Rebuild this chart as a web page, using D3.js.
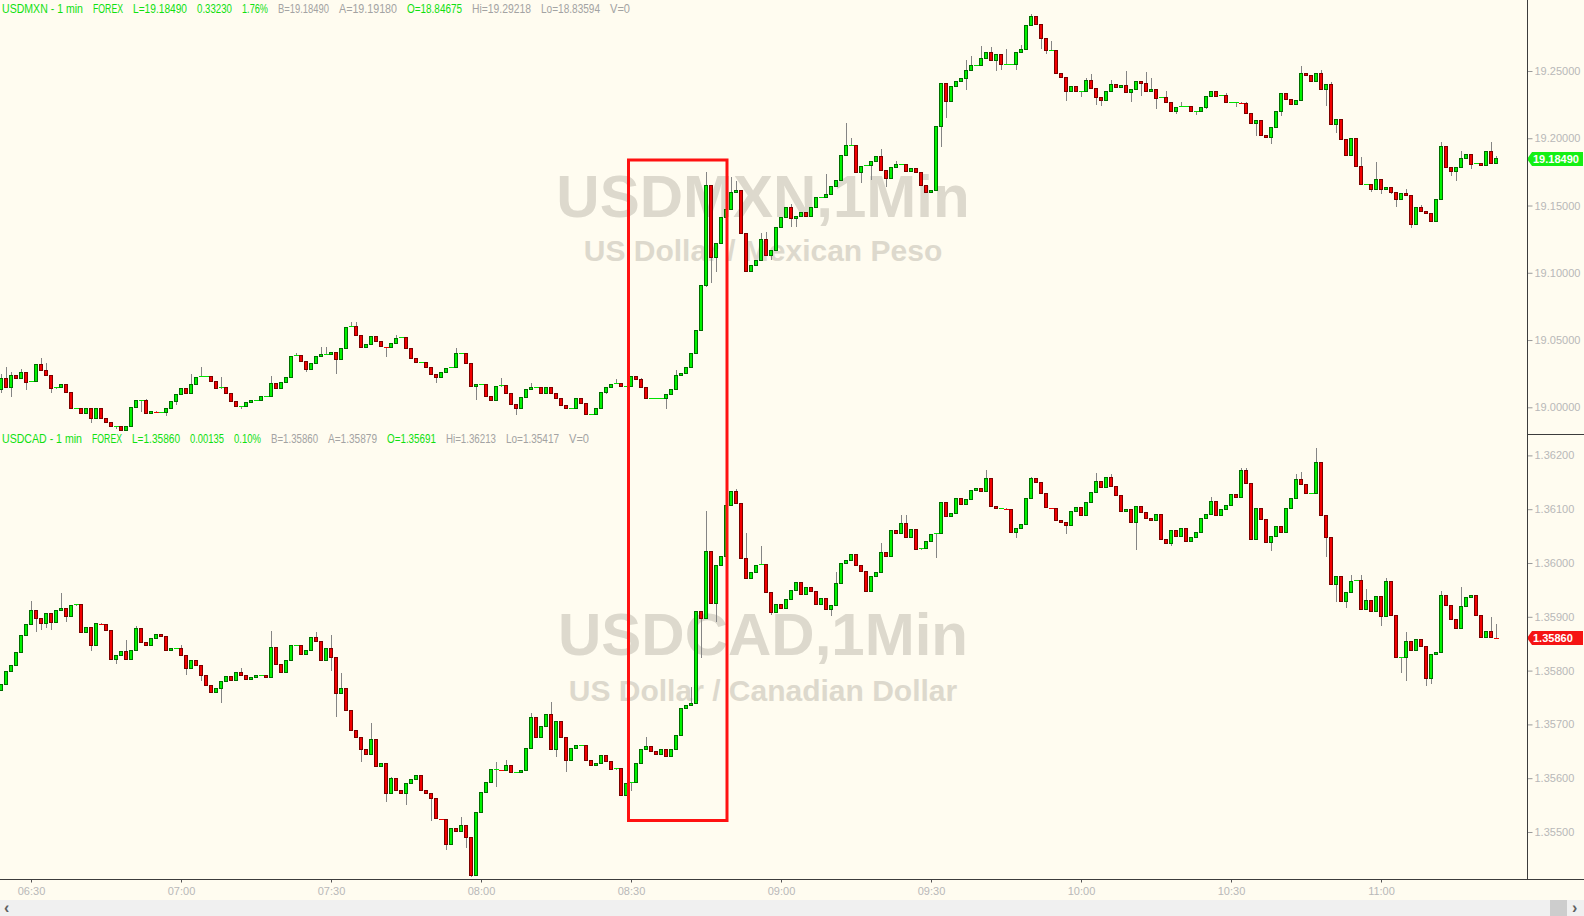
<!DOCTYPE html>
<html>
<head>
<meta charset="utf-8">
<script src="https://cdn.jsdelivr.net/npm/d3@7/dist/d3.min.js"></script>
<style>
html, body { margin: 0; padding: 0; background: #fffcf0; overflow: hidden; }
svg { display: block; font-family: "Liberation Sans", Arial, sans-serif; }
</style>
</head>
<body>
<div id="chart"></div>
<script>

// ---- DATA ---- //
// one bar per minute starting at sessionStart; open of a bar = previous close
var sessionStart = "06:24";
var timeTicks = ["06:30", "07:00", "07:30", "08:00", "08:30", "09:00", "09:30", "10:00", "10:30", "11:00"];

var mxnTicks = [19.00, 19.05, 19.10, 19.15, 19.20, 19.25];
var mxnFirstOpen = 19.0133;
var mxnClose = [
	19.0215,19.0148,19.0235,19.0213,19.0260,19.0185,19.0195,19.0319,19.0275,19.0240,
	19.0138,19.0148,19.0168,19.0111,18.9990,18.9990,18.9955,18.9990,18.9918,18.9990,
	18.9918,18.9888,18.9859,18.9859,18.9831,18.9856,19.0000,19.0052,19.0052,18.9955,
	18.9970,18.9963,18.9963,18.9990,19.0044,19.0094,19.0138,19.0104,19.0168,19.0223,
	19.0228,19.0228,19.0190,19.0138,19.0146,19.0104,19.0044,19.0007,19.0007,19.0034,
	19.0052,19.0052,19.0079,19.0081,19.0178,19.0138,19.0185,19.0220,19.0379,19.0386,
	19.0339,19.0280,19.0327,19.0376,19.0394,19.0394,19.0406,19.0354,19.0438,19.0594,
	19.0602,19.0535,19.0446,19.0468,19.0525,19.0488,19.0450,19.0446,19.0475,19.0512,
	19.0520,19.0438,19.0364,19.0334,19.0334,19.0297,19.0245,19.0220,19.0260,19.0290,
	19.0297,19.0401,19.0401,19.0327,19.0153,19.0168,19.0173,19.0084,19.0052,19.0153,
	19.0163,19.0099,19.0022,18.9990,19.0072,19.0134,19.0146,19.0146,19.0104,19.0146,
	19.0104,19.0067,19.0010,18.9993,18.9993,19.0067,19.0030,18.9950,18.9950,18.9993,
	19.0111,19.0146,19.0171,19.0178,19.0158,19.0158,19.0228,19.0208,19.0146,19.0067,
	19.0067,19.0067,19.0067,19.0097,19.0136,19.0240,19.0253,19.0297,19.0401,19.0570,
	19.0906,19.1647,19.1114,19.1218,19.1412,19.1471,19.1597,19.1615,19.1293,19.1008,
	19.1053,19.1090,19.1248,19.1132,19.1169,19.1337,19.1412,19.1486,19.1404,19.1417,
	19.1449,19.1417,19.1486,19.1560,19.1560,19.1582,19.1639,19.1684,19.1870,19.1946,
	19.1946,19.1746,19.1793,19.1800,19.1830,19.1862,19.1763,19.1701,19.1783,19.1805,
	19.1805,19.1756,19.1776,19.1746,19.1652,19.1597,19.1610,19.2085,19.2407,19.2273,
	19.2382,19.2422,19.2444,19.2501,19.2541,19.2543,19.2593,19.2635,19.2576,19.2623,
	19.2551,19.2551,19.2551,19.2635,19.2660,19.2838,19.2907,19.2845,19.2741,19.2652,
	19.2652,19.2481,19.2452,19.2348,19.2385,19.2348,19.2350,19.2429,19.2370,19.2303,
	19.2281,19.2348,19.2400,19.2377,19.2390,19.2340,19.2363,19.2422,19.2407,19.2348,
	19.2363,19.2296,19.2303,19.2266,19.2199,19.2229,19.2236,19.2236,19.2199,19.2199,
	19.2229,19.2311,19.2348,19.2311,19.2316,19.2266,19.2266,19.2266,19.2259,19.2184,
	19.2110,19.2132,19.2018,19.2006,19.2080,19.2199,19.2333,19.2288,19.2251,19.2281,
	19.2481,19.2467,19.2422,19.2481,19.2363,19.2400,19.2103,19.2140,19.1989,19.1872,
	19.1999,19.1790,19.1657,19.1657,19.1620,19.1691,19.1620,19.1634,19.1597,19.1545,
	19.1590,19.1575,19.1360,19.1486,19.1456,19.1441,19.1382,19.1545,19.1939,19.1783,
	19.1753,19.1783,19.1850,19.1880,19.1805,19.1813,19.1800,19.1902,19.1813,19.1849
];
// wicks that stick out of the body (bar index : price)
var mxnHigh = {0:19.0247,1:19.0302,2:19.0265,4:19.0282,8:19.0364,9:19.0332,29:19.0059,38:19.0245,40:19.0297,
	44:19.0228,54:19.0233,59:19.0406,64:19.0450,65:19.0445,70:19.0631,71:19.0631,79:19.0537,91:19.0438,100:19.0215,
	106:19.0178,123:19.0208,128:19.0220,135:19.0277,141:19.1746,146:19.1714,147:19.1684,152:19.1298,153:19.1305,
	158:19.1511,165:19.1734,169:19.2117,170:19.2004,176:19.1917,179:19.1833,193:19.2585,194:19.2610,196:19.2685,
	198:19.2680,201:19.2667,204:19.2692,206:19.2922,210:19.2722,217:19.2447,218:19.2474,222:19.2432,225:19.2499,
	229:19.2491,230:19.2449,233:19.2350,236:19.2266,245:19.2333,249:19.2266,260:19.2536,264:19.2506,266:19.2417,
	272:19.1862,275:19.1823,281:19.1625,284:19.1501,288:19.1969,292:19.1904,298:19.1969,299:19.1870};
var mxnLow = {0:19.0109,2:19.0079,5:19.0129,10:19.0109,18:18.9881,23:18.9841,28:18.9965,33:18.9935,35:19.0017,
	48:18.9985,61:19.0262,67:19.0245,77:19.0376,87:19.0183,95:19.0054,103:18.9940,117:18.9943,121:19.0099,
	133:18.9985,141:19.0896,142:19.0921,143:19.1008,154:19.1095,158:19.1337,159:19.1337,172:19.1664,174:19.1689,
	177:19.1639,188:19.1932,189:19.2147,193:19.2358,199:19.2501,200:19.2506,203:19.2511,208:19.2660,209:19.2628,
	213:19.2278,216:19.2308,219:19.2249,220:19.2239,226:19.2271,228:19.2316,231:19.2219,235:19.2184,239:19.2172,
	241:19.2214,247:19.2229,251:19.2016,254:19.1961,256:19.2164,265:19.2239,267:19.2036,274:19.1602,276:19.1585,
	278:19.1582,279:19.1486,282:19.1330,286:19.1374,290:19.1719,291:19.1684,294:19.1768};

var cadTicks = [1.355, 1.356, 1.357, 1.358, 1.359, 1.360, 1.361, 1.362];
var cadFirstOpen = 1.35763;
var cadClose = [
	1.35774,1.35799,1.35810,1.35834,1.35866,1.35886,1.35912,1.35897,1.35888,1.35906,
	1.35890,1.35912,1.35916,1.35901,1.35921,1.35923,1.35871,1.35880,1.35847,1.35888,
	1.35886,1.35875,1.35821,1.35828,1.35836,1.35821,1.35838,1.35879,1.35853,1.35847,
	1.35860,1.35867,1.35864,1.35838,1.35841,1.35841,1.35828,1.35804,1.35819,1.35810,
	1.35791,1.35773,1.35760,1.35767,1.35780,1.35789,1.35782,1.35797,1.35791,1.35784,
	1.35787,1.35790,1.35791,1.35787,1.35843,1.35812,1.35797,1.35819,1.35847,1.35847,
	1.35830,1.35838,1.35862,1.35854,1.35819,1.35841,1.35825,1.35758,1.35767,1.35726,
	1.35689,1.35676,1.35654,1.35644,1.35672,1.35622,1.35628,1.35572,1.35600,1.35577,
	1.35572,1.35590,1.35598,1.35605,1.35577,1.35572,1.35563,1.35525,1.35524,1.35477,
	1.35507,1.35501,1.35512,1.35490,1.35419,1.35537,1.35574,1.35592,1.35616,1.35616,
	1.35615,1.35624,1.35611,1.35611,1.35615,1.35656,1.35713,1.35676,1.35696,1.35719,
	1.35654,1.35706,1.35676,1.35633,1.35656,1.35661,1.35661,1.35633,1.35624,1.35628,
	1.35643,1.35631,1.35616,1.35618,1.35568,1.35590,1.35592,1.35628,1.35654,1.35659,
	1.35650,1.35644,1.35654,1.35641,1.35654,1.35680,1.35730,1.35735,1.35739,1.35910,
	1.35897,1.36022,1.35925,1.35996,1.36012,1.36107,1.36133,1.36111,1.36009,1.35972,
	1.35983,1.35996,1.35998,1.35945,1.35908,1.35923,1.35916,1.35932,1.35949,1.35964,
	1.35942,1.35955,1.35947,1.35923,1.35934,1.35914,1.35921,1.35962,1.35999,1.36005,
	1.36016,1.35996,1.35985,1.35947,1.35975,1.35983,1.36020,1.36012,1.36061,1.36055,
	1.36074,1.36048,1.36063,1.36025,1.36027,1.36040,1.36053,1.36055,1.36113,1.36087,
	1.36092,1.36120,1.36109,1.36118,1.36135,1.36139,1.36133,1.36157,1.36105,1.36102,
	1.36102,1.36100,1.36057,1.36064,1.36072,1.36120,1.36157,1.36150,1.36129,1.36103,
	1.36102,1.36079,1.36076,1.36070,1.36096,1.36103,1.36089,1.36113,1.36131,1.36152,
	1.36141,1.36159,1.36143,1.36126,1.36096,1.36100,1.36076,1.36105,1.36094,1.36083,
	1.36079,1.36090,1.36044,1.36037,1.36061,1.36050,1.36064,1.36040,1.36048,1.36057,
	1.36083,1.36090,1.36115,1.36089,1.36100,1.36107,1.36128,1.36122,1.36172,1.36148,
	1.36044,1.36102,1.36081,1.36038,1.36050,1.36068,1.36057,1.36102,1.36120,1.36156,
	1.36146,1.36129,1.36129,1.36187,1.36089,1.36048,1.35960,1.35975,1.35929,1.35945,
	1.35966,1.35968,1.35914,1.35931,1.35910,1.35938,1.35901,1.35966,1.35903,1.35825,
	1.35825,1.35854,1.35838,1.35858,1.35845,1.35786,1.35830,1.35834,1.35940,1.35921,
	1.35895,1.35879,1.35919,1.35936,1.35940,1.35903,1.35862,1.35873,1.35862,1.35860
];
var cadHigh = {6:1.35929,12:1.35945,25:1.35856,27:1.35882,36:1.35847,48:1.35804,54:1.35873,63:1.35871,66:1.35866,
	68:1.35795,74:1.35702,78:1.35602,92:1.35527,99:1.35631,101:1.35633,106:1.35721,110:1.35741,129:1.35676,
	138:1.35770,141:1.36096,147:1.36137,149:1.36055,152:1.36031,167:1.35983,176:1.36037,180:1.36089,181:1.36089,
	197:1.36173,206:1.36159,219:1.36167,222:1.36165,242:1.36122,248:1.36176,249:1.36176,259:1.36165,260:1.36169,
	263:1.36213,270:1.35977,272:1.35977,273:1.35951,277:1.35972,281:1.35871,288:1.35948,292:1.35955,298:1.35899,
	299:1.35886};
var cadLow = {7:1.35871,8:1.35875,9:1.35879,10:1.35875,13:1.35890,16:1.35869,18:1.35836,22:1.35819,23:1.35813,
	37:1.35791,40:1.35780,44:1.35739,56:1.35795,66:1.35800,67:1.35713,72:1.35631,77:1.35555,81:1.35550,86:1.35520,
	89:1.35466,93:1.35471,94:1.35417,99:1.35583,111:1.35639,113:1.35611,126:1.35577,140:1.35823,143:1.35891,
	154:1.35903,166:1.35901,187:1.36009,203:1.36046,213:1.36053,227:1.36025,234:1.36031,254:1.36022,265:1.36011,
	267:1.35928,269:1.35916,276:1.35882,280:1.35795,281:1.35781,285:1.35771,286:1.35776};

var mxnHeader = [["USDMXN - 1 min", "g"], ["FOREX", "g"], ["L=19.18490", "g"], ["0.33230", "g"], ["1.76%", "g"],
	["B=19.18490", "n"], ["A=19.19180", "n"], ["O=18.84675", "g"], ["Hi=19.29218", "n"], ["Lo=18.83594", "n"], ["V=0", "n"]];
var cadHeader = [["USDCAD - 1 min", "g"], ["FOREX", "g"], ["L=1.35860", "g"], ["0.00135", "g"], ["0.10%", "g"],
	["B=1.35860", "n"], ["A=1.35879", "n"], ["O=1.35691", "g"], ["Hi=1.36213", "n"], ["Lo=1.35417", "n"], ["V=0", "n"]];


// ---- SETUP ---- //
var W = 1584, H = 916;
var axisX = 1527;
var axisY = 879.5;
var parseTime = d3.timeParse("%H:%M");
var t0 = parseTime(sessionStart);

var svg = d3.select("#chart").append("svg")
	.attr("width", W)
	.attr("height", H);

svg.append("rect").attr("width", W).attr("height", H).attr("fill", "#fffcf0");

// 5 px per minute
var x = d3.scaleTime()
	.domain([t0, d3.timeMinute.offset(t0, 96)])
	.range([1, 481]);

function buildBars(firstOpen, closes, highs, lows) {
	return closes.map(function(c, i) {
		var o = i === 0 ? firstOpen : closes[i - 1];
		var h = Math.max(o, c, highs[i] !== undefined ? highs[i] : -Infinity);
		var l = Math.min(o, c, lows[i] !== undefined ? lows[i] : Infinity);
		return { t: d3.timeMinute.offset(t0, i), o: o, c: c, h: h, l: l };
	});
}


/*
 *  CandlePanel - one price pane with its candles, axis and labels
 */
CandlePanel = function(_svg, _cfg) {
	this.svg = _svg;
	this.cfg = _cfg;
	this.initVis();
}

CandlePanel.prototype.initVis = function() {
	var vis = this;
	var cfg = vis.cfg;

	vis.y = d3.scaleLinear().domain(cfg.domain).range(cfg.range);
	vis.bars = buildBars(cfg.firstOpen, cfg.closes, cfg.highs, cfg.lows);

	// watermark
	vis.svg.append("text")
		.attr("x", 763).attr("y", cfg.titleY)
		.attr("text-anchor", "middle")
		.style("font-size", "60px").style("font-weight", "bold")
		.attr("fill", "#ddd9cd")
		.text(cfg.title);
	vis.svg.append("text")
		.attr("x", 763).attr("y", cfg.subY)
		.attr("text-anchor", "middle")
		.style("font-size", "30px").style("font-weight", "bold")
		.attr("fill", "#ddd9cd")
		.text(cfg.subtitle);

	vis.svg.append("clipPath").attr("id", cfg.id + "-clip")
		.append("rect")
		.attr("x", 0).attr("y", cfg.top)
		.attr("width", axisX).attr("height", cfg.bottom - cfg.top);

	vis.g = vis.svg.append("g")
		.attr("clip-path", "url(#" + cfg.id + "-clip)")
		.attr("shape-rendering", "crispEdges");

	// header line, each piece kept inside the gap before the next one
	var header = vis.svg.append("g");
	cfg.header.forEach(function(seg, i) {
		var t = header.append("text")
			.attr("x", cfg.headerX[i]).attr("y", cfg.headerY)
			.style("font-size", "12px")
			.style("font-family", "'Liberation Sans Narrow', 'Liberation Sans', Arial, sans-serif")
			.attr("fill", seg[1] === "g" ? "#10e010" : "#a3a3a3")
			.text(seg[0]);
		var room = (i < cfg.header.length - 1 ? cfg.headerX[i + 1] - 10 : cfg.headerX[i] + 20) - cfg.headerX[i];
		if (t.node().getComputedTextLength() > room) {
			t.attr("textLength", room).attr("lengthAdjust", "spacingAndGlyphs");
		}
	});

	// price axis
	var yAxis = d3.axisRight(vis.y)
		.tickValues(cfg.ticks)
		.tickSize(5)
		.tickPadding(2)
		.tickFormat(d3.format(".5f"));

	vis.svg.append("g")
		.attr("transform", "translate(" + (axisX + 0.5) + ",0)")
		.call(yAxis)
		.call(function(g) { g.select(".domain").remove(); })
		.call(function(g) {
			g.selectAll("line").attr("stroke", "#9a9a9a");
			g.selectAll("text").attr("fill", "#b8b8b8")
				.style("font-size", "11px")
				.style("font-family", "'Liberation Sans', Arial, sans-serif");
		});

	vis.updateVis();
}

CandlePanel.prototype.updateVis = function() {
	var vis = this;
	var y = vis.y;
	var cfg = vis.cfg;

	// wicks
	vis.g.selectAll(".wick")
		.data(vis.bars)
		.enter().append("line")
		.attr("class", "wick")
		.attr("x1", function(d) { return Math.round(x(d.t)) + 0.5; })
		.attr("x2", function(d) { return Math.round(x(d.t)) + 0.5; })
		.attr("y1", function(d) { return y(d.h); })
		.attr("y2", function(d) { return y(d.l); })
		.attr("stroke", "#858585");

	var bodies = vis.bars.filter(function(d) { return Math.abs(y(d.o) - y(d.c)) >= 1.5; });
	var flats = vis.bars.filter(function(d) { return Math.abs(y(d.o) - y(d.c)) < 1.5; });

	vis.g.selectAll(".body")
		.data(bodies)
		.enter().append("rect")
		.attr("class", "body")
		.attr("x", function(d) { return Math.round(x(d.t)) - 1.5; })
		.attr("width", 3)
		.attr("y", function(d) { return y(Math.max(d.o, d.c)); })
		.attr("height", function(d) { return Math.abs(y(d.o) - y(d.c)); })
		.attr("fill", function(d) { return d.c > d.o ? "#00f200" : "#f20000"; })
		.attr("stroke", function(d) { return d.c > d.o ? "#006e00" : "#7a0000"; });

	vis.g.selectAll(".flat")
		.data(flats)
		.enter().append("line")
		.attr("class", "flat")
		.attr("x1", function(d) { return Math.round(x(d.t)) - 2; })
		.attr("x2", function(d) { return Math.round(x(d.t)) + 3; })
		.attr("y1", function(d) { return y(d.c); })
		.attr("y2", function(d) { return y(d.c); })
		.attr("stroke", function(d) { return d.c >= d.o ? "#00e000" : "#f00000"; });

	// last price flag
	var last = cfg.closes[cfg.closes.length - 1];
	var yc = Math.round(y(last));
	vis.svg.append("path")
		.attr("d", "M" + axisX + "," + yc + "L" + (axisX + 5) + "," + (yc - 7) + "H" + 1583 +
			"V" + (yc + 7) + "H" + (axisX + 5) + "Z")
		.attr("fill", cfg.flagColor);
	vis.svg.append("text")
		.attr("x", axisX + 6).attr("y", yc + 4)
		.style("font-size", "11px").style("font-weight", "bold")
		.attr("fill", "#ffffff")
		.text(d3.format(".5f")(last));
}


var mxnPanel = new CandlePanel(svg, {
	id: "mxn", top: 0, bottom: 434,
	domain: [19.00, 19.25], range: [407.3, 71],
	firstOpen: mxnFirstOpen, closes: mxnClose, highs: mxnHigh, lows: mxnLow,
	ticks: mxnTicks, header: mxnHeader, headerY: 12.5,
	headerX: [2, 93, 133, 197, 242, 278, 339, 407, 472, 541, 610],
	title: "USDMXN,1Min", subtitle: "US Dollar / Mexican Peso", titleY: 217, subY: 261,
	flagColor: "#14f014"
});

var cadPanel = new CandlePanel(svg, {
	id: "cad", top: 434, bottom: 879,
	domain: [1.355, 1.362], range: [832, 455.4],
	firstOpen: cadFirstOpen, closes: cadClose, highs: cadHigh, lows: cadLow,
	ticks: cadTicks, header: cadHeader, headerY: 442.5,
	headerX: [2, 92, 132, 190, 234, 271, 328, 387, 446, 506, 569],
	title: "USDCAD,1Min", subtitle: "US Dollar / Canadian Dollar", titleY: 655, subY: 701,
	flagColor: "#f51414"
});


// ---- FRAME & TIME AXIS ---- //
svg.append("line")
	.attr("x1", axisX + 0.5).attr("x2", axisX + 0.5)
	.attr("y1", 0).attr("y2", axisY)
	.attr("stroke", "#3c3c3c");
svg.append("line")
	.attr("x1", axisX).attr("x2", W)
	.attr("y1", 434.5).attr("y2", 434.5)
	.attr("stroke", "#3c3c3c");

var xAxis = d3.axisBottom(x)
	.tickValues(timeTicks.map(parseTime))
	.tickSize(3)
	.tickPadding(5)
	.tickFormat(d3.timeFormat("%H:%M"));

svg.append("g")
	.attr("transform", "translate(0," + axisY + ")")
	.call(xAxis)
	.call(function(g) { g.select(".domain").remove(); })
	.call(function(g) {
		g.selectAll("line").attr("stroke", "#555");
		g.selectAll("text").attr("fill", "#b8b8b8")
			.style("font-size", "11px")
			.style("font-family", "'Liberation Sans', Arial, sans-serif");
	});

svg.append("line")
	.attr("x1", 0).attr("x2", W)
	.attr("y1", axisY).attr("y2", axisY)
	.attr("stroke", "#3c3c3c");

// scroll bar
svg.append("rect").attr("x", 0).attr("y", 900).attr("width", W).attr("height", 16).attr("fill", "#f0f0f0");
svg.append("rect").attr("x", 1550).attr("y", 900).attr("width", 17).attr("height", 16).attr("fill", "#cdcdcd");
svg.append("text").attr("x", 4).attr("y", 913).style("font-size", "16px").style("font-weight", "bold")
	.attr("fill", "#606060").text("‹");
svg.append("text").attr("x", 1572).attr("y", 913).style("font-size", "16px").style("font-weight", "bold")
	.attr("fill", "#606060").text("›");

// highlight box
svg.append("rect")
	.attr("x", 628.5).attr("y", 160)
	.attr("width", 98.5).attr("height", 660.5)
	.attr("fill", "none")
	.attr("stroke", "#ff1111")
	.attr("stroke-width", 3);

</script>
</body>
</html>
